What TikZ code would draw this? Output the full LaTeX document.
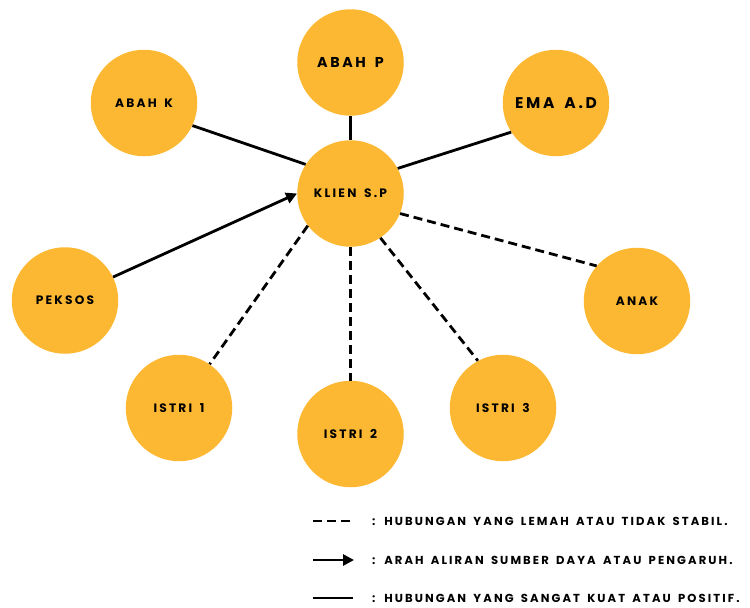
\documentclass[tikz,border=0pt]{standalone}
\usepackage{fontspec}
\newfontfamily\ecofont{Poppins}[LetterSpace=18,WordSpace=1.6]
\usetikzlibrary{arrows.meta}
\definecolor{ecoorange}{HTML}{FDB833}

\begin{document}
\begin{tikzpicture}[x=1pt,y=-1pt,
  person/.style={circle,fill=ecoorange,minimum size=106.5pt,inner sep=0pt,
    font=\ecofont\fontsize{12.2}{14}\selectfont\bfseries},
  bigperson/.style={person,font=\ecofont\fontsize{14.3}{16}\selectfont\bfseries},
  strong/.style={line width=2.8pt},
  weak/.style={line width=2.8pt,dash pattern=on 9pt off 5pt},
  flow/.style={line width=2.8pt,-{Triangle[length=11pt,width=11pt]}},
  legendtext/.style={anchor=west,inner sep=0pt,font=\ecofont\fontsize{11.6}{14}\selectfont\bfseries}]
\useasboundingbox (0,0) rectangle (750,608);

% people
\node[bigperson] (abahp) at (350.5,62.5) {ABAH P};
\node[person] (abahk) at (144,103) {ABAH K};
\node[bigperson,font=\ecofont\fontsize{15.5}{17}\selectfont\bfseries] (ema) at (556,103) {EMA A.D};
\node[person] (klien) at (350.5,193.5) {KLIEN S.P};
\node[person] (peksos) at (65,300.5) {PEKSOS};
\node[person] (anak) at (637,301) {ANAK};
\node[person] (istri1) at (179,408) {ISTRI 1};
\node[person] (istri2) at (350.5,434) {ISTRI 2};
\node[person] (istri3) at (503,408) {ISTRI 3};

% relations
\draw[strong] (abahp) -- (klien);
\draw[strong] (abahk.-25) -- (klien.147);
\draw[strong] (klien.28) -- (ema.213);
\draw[flow] (peksos.26) -- (klien.180);
\draw[weak] (klien.-22) -- (anak.139);
\draw[weak] (klien.-56) -- (istri3.118);
\draw[weak] (klien) -- (istri2);
\draw[weak] (klien.217) -- (istri1.55);

% legend
\coordinate (w1) at (313,521);
\coordinate (w2) at (353,521);
\coordinate (f1) at (313,560);
\coordinate (f2) at (354,560);
\coordinate (s1) at (313,598);
\coordinate (s2) at (353,598);
\draw[weak] (w1) -- (w2);
\draw[flow] (f1) -- (f2);
\draw[strong] (s1) -- (s2);
\node[legendtext] (wtxt) at (372,521) {: HUBUNGAN YANG LEMAH ATAU TIDAK STABIL.};
\node[legendtext] (ftxt) at (372,560) {: ARAH ALIRAN SUMBER DAYA ATAU PENGARUH.};
\node[legendtext] (stxt) at (372,598) {: HUBUNGAN YANG SANGAT KUAT ATAU POSITIF.};
\end{tikzpicture}
\end{document}
